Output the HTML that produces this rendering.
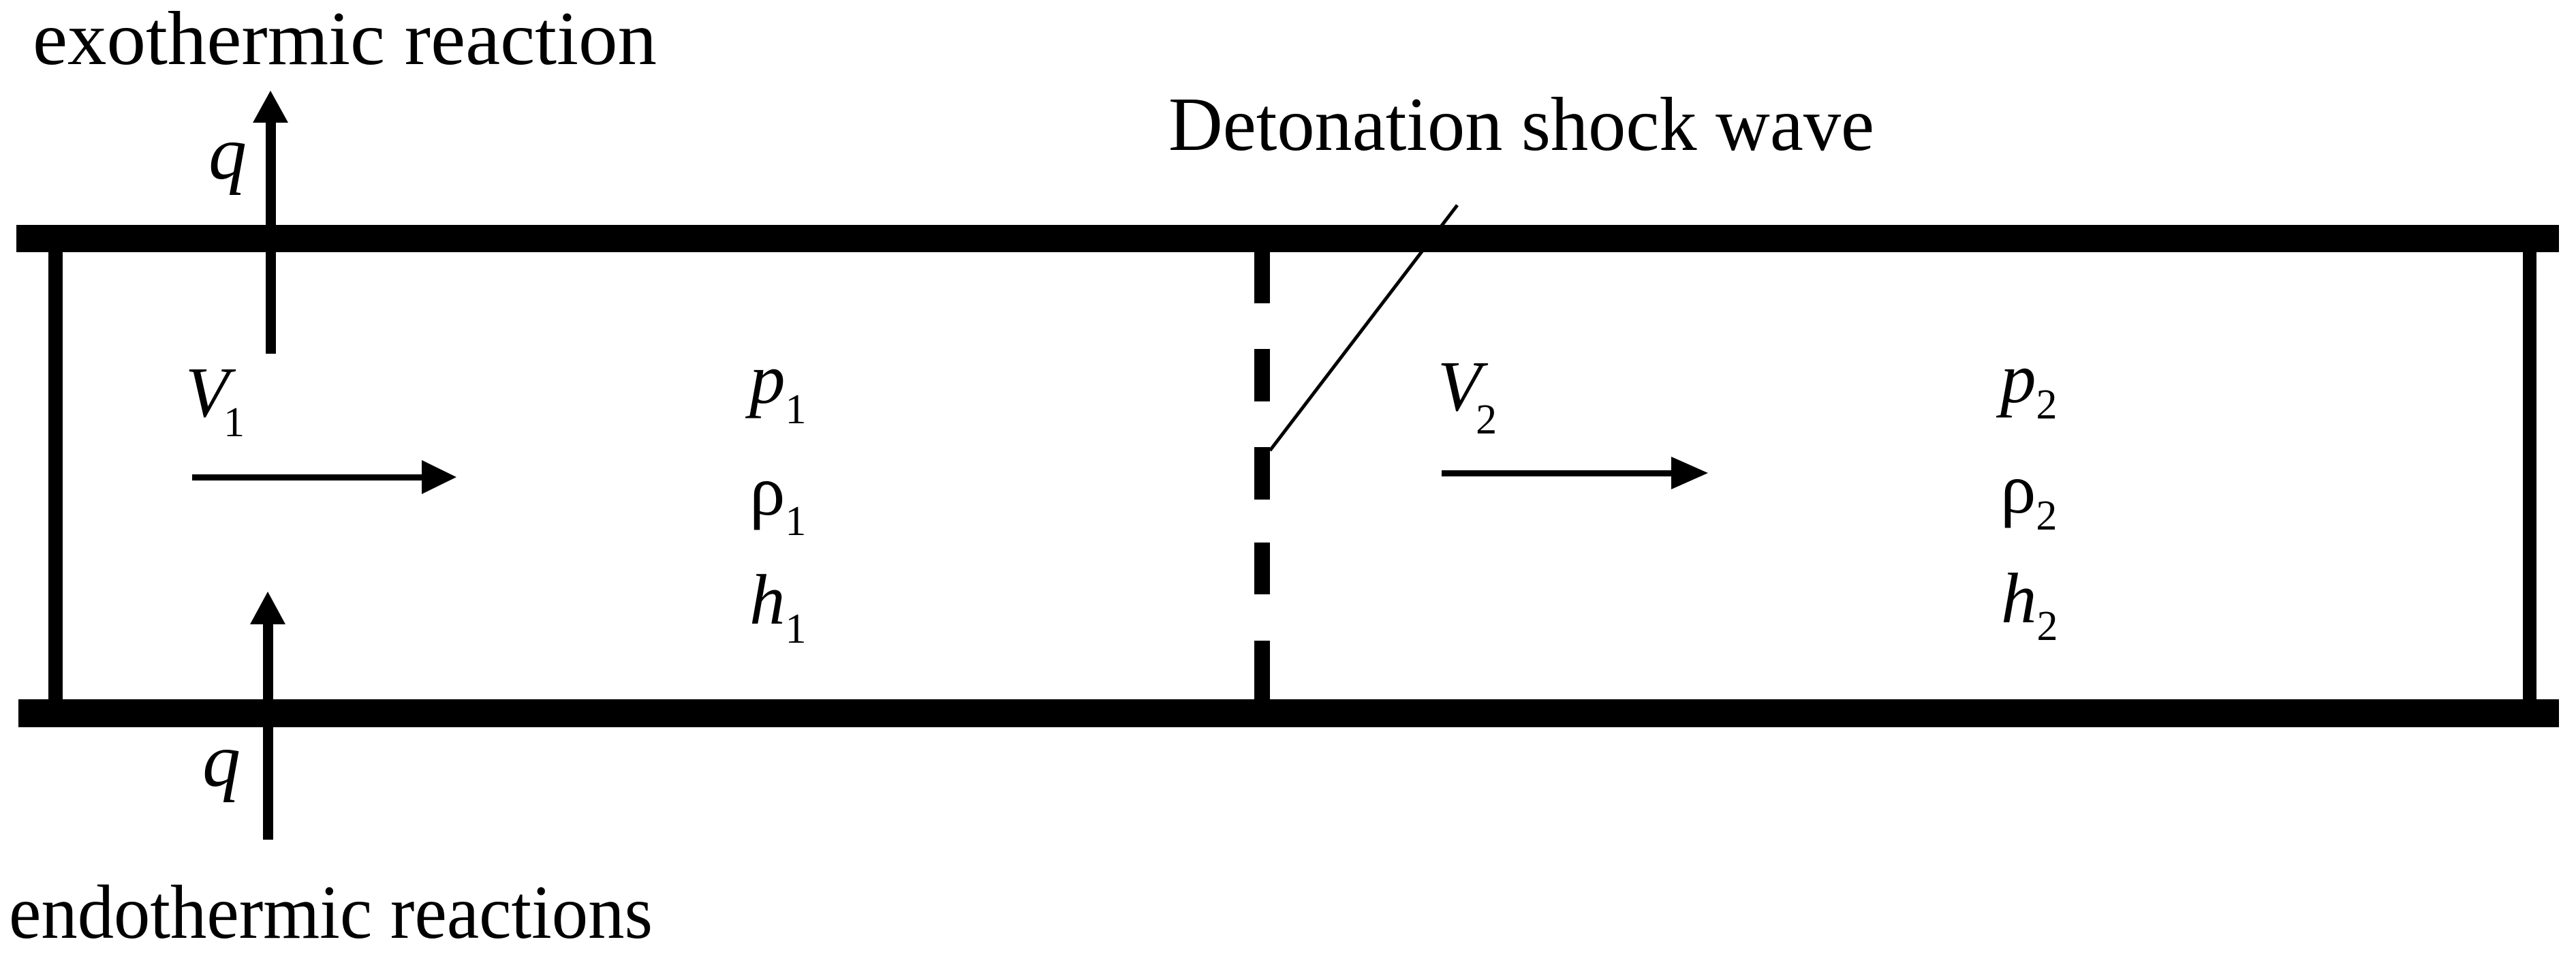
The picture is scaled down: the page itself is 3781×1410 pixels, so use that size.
<!DOCTYPE html>
<html><head><meta charset="utf-8"><style>html,body{margin:0;padding:0;background:#fff}svg{display:block}text{font-family:"Liberation Serif","DejaVu Serif",serif}</style></head>
<body>
<svg width="3781" height="1410" viewBox="0 0 3781 1410" xmlns="http://www.w3.org/2000/svg" fill="#000">
<rect width="3781" height="1410" fill="#fff"/>
<!-- pipe -->
<rect x="24" y="330" width="3732" height="40"/>
<rect x="27" y="1026" width="3729" height="41"/>
<rect x="71" y="360" width="21" height="676"/>
<rect x="3703" y="360" width="20" height="676"/>
<!-- dashed shock -->
<rect x="1841" y="369" width="23" height="76"/>
<rect x="1841" y="512" width="23" height="77"/>
<rect x="1841" y="656" width="23" height="77"/>
<rect x="1841" y="796" width="23" height="76"/>
<rect x="1841" y="940" width="23" height="86"/>
<line x1="1864" y1="661" x2="2139" y2="301" stroke="#000" stroke-width="5"/>
<!-- q arrows -->
<rect x="390" y="170" width="15" height="349"/>
<polygon points="397,133 371,180 423,180"/>
<rect x="386" y="905" width="15" height="327"/>
<polygon points="393,868 367,916 419,916"/>
<!-- V arrows -->
<rect x="282" y="696" width="345" height="9"/>
<polygon points="670,700 619,675 619,725"/>
<rect x="2116" y="690" width="345" height="9"/>
<polygon points="2507,694 2453,670 2453,718"/>
<!-- labels -->
<text x="48" y="94" font-size="112" textLength="916" lengthAdjust="spacingAndGlyphs">exothermic reaction</text>
<text x="13" y="1376" font-size="112" textLength="945" lengthAdjust="spacingAndGlyphs">endothermic reactions</text>
<text x="1715" y="220" font-size="112" textLength="1036" lengthAdjust="spacingAndGlyphs">Detonation shock wave</text>
<text x="306" y="262" font-size="112" font-style="italic">q</text>
<text x="297" y="1153" font-size="112" font-style="italic">q</text>
<text x="272" y="611" font-size="105" font-style="italic">V<tspan font-size="62" font-style="normal" dy="29" dx="-8">1</tspan></text>
<text x="2110" y="602" font-size="105" font-style="italic">V<tspan font-size="62" font-style="normal" dy="34" dx="-8">2</tspan></text>
<text x="1100" y="591" font-size="105" font-style="italic">p<tspan font-size="62" font-style="normal" dy="30">1</tspan></text>
<text x="1100" y="755" font-size="105">ρ<tspan font-size="62" dy="30">1</tspan></text>
<text x="1100" y="915" font-size="105" font-style="italic">h<tspan font-size="62" font-style="normal" dy="28">1</tspan></text>
<text x="2936" y="590" font-size="105" font-style="italic">p<tspan font-size="62" font-style="normal" dy="24">2</tspan></text>
<text x="2936" y="752" font-size="105">ρ<tspan font-size="62" dy="25">2</tspan></text>
<text x="2937" y="913" font-size="105" font-style="italic">h<tspan font-size="62" font-style="normal" dy="26">2</tspan></text>
</svg>
</body></html>
